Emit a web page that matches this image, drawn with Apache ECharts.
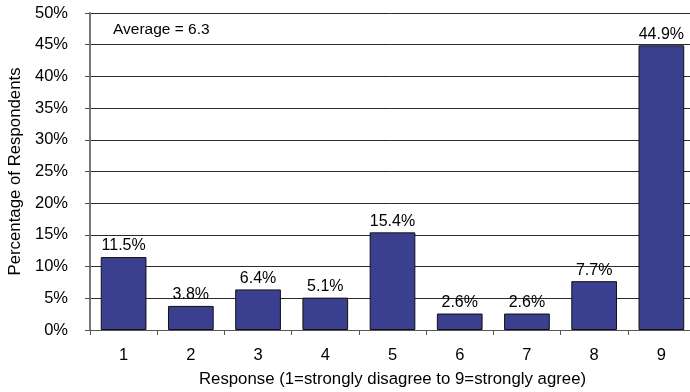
<!DOCTYPE html>
<html>
<head>
<meta charset="utf-8">
<script src="https://cdn.jsdelivr.net/npm/echarts@6/dist/echarts.min.js"></script>
<style>
  html, body { margin: 0; padding: 0; background: #fff; }
  #chart { width: 690px; height: 392px; }
</style>
</head>
<body>
<div id="chart"></div>
<script>
// Survey responses on a 1–9 scale
const categories = ['1', '2', '3', '4', '5', '6', '7', '8', '9'];
const percentages = [11.5, 3.8, 6.4, 5.1, 15.4, 2.6, 2.6, 7.7, 44.9];
const yTicks = [0, 5, 10, 15, 20, 25, 30, 35, 40, 45, 50];
const averageText = 'Average = 6.3';

const font = 'Liberation Sans, Arial, Helvetica, sans-serif';
const chart = echarts.init(document.getElementById('chart'), null, { renderer: 'canvas' });

chart.setOption({
  animation: false,
  textStyle: { fontFamily: font },
  grid: {
    left: 90, top: 13, width: 605, height: 317,
    containLabel: false,
    outerBoundsMode: 'none'
  },
  graphic: [{
    type: 'text',
    left: 113,
    top: 22,
    style: { text: averageText, font: '15.5px ' + font, fill: '#000' }
  }],
  xAxis: {
    type: 'category',
    data: categories,
    boundaryGap: true,
    name: 'Response (1=strongly disagree to 9=strongly agree)',
    nameLocation: 'middle',
    nameGap: 41,
    nameTextStyle: { fontSize: 16.8, color: '#000', fontFamily: font },
    axisLine: { show: true, lineStyle: { color: '#555', width: 1 } },
    axisTick: { show: true, length: 5, lineStyle: { color: '#555' } },
    axisLabel: { fontSize: 16.5, color: '#000', margin: 17, fontFamily: font }
  },
  yAxis: {
    type: 'value',
    min: yTicks[0],
    max: yTicks[yTicks.length - 1],
    interval: 5,
    name: 'Percentage of Respondents',
    nameLocation: 'middle',
    nameGap: 64,
    nameTextStyle: { fontSize: 16.8, color: '#000', fontFamily: font },
    axisLine: { show: true, lineStyle: { color: '#777', width: 2 } },
    axisTick: { show: true, length: 5, lineStyle: { color: '#555' } },
    axisLabel: { fontSize: 16.5, color: '#000', margin: 22, formatter: v => v + '%', fontFamily: font },
    splitLine: { show: true, lineStyle: { color: '#2a2a2a', width: 1 } }
  },
  series: [{
    type: 'bar',
    data: percentages,
    barCategoryGap: '32%',
    itemStyle: { color: '#3B3F8F', borderColor: '#111', borderWidth: 1 },
    label: {
      show: true,
      position: 'top',
      distance: 3,
      fontSize: 16,
      color: '#000',
      fontFamily: font,
      formatter: p => p.value.toFixed(1) + '%'
    }
  }]
});
</script>
</body>
</html>
